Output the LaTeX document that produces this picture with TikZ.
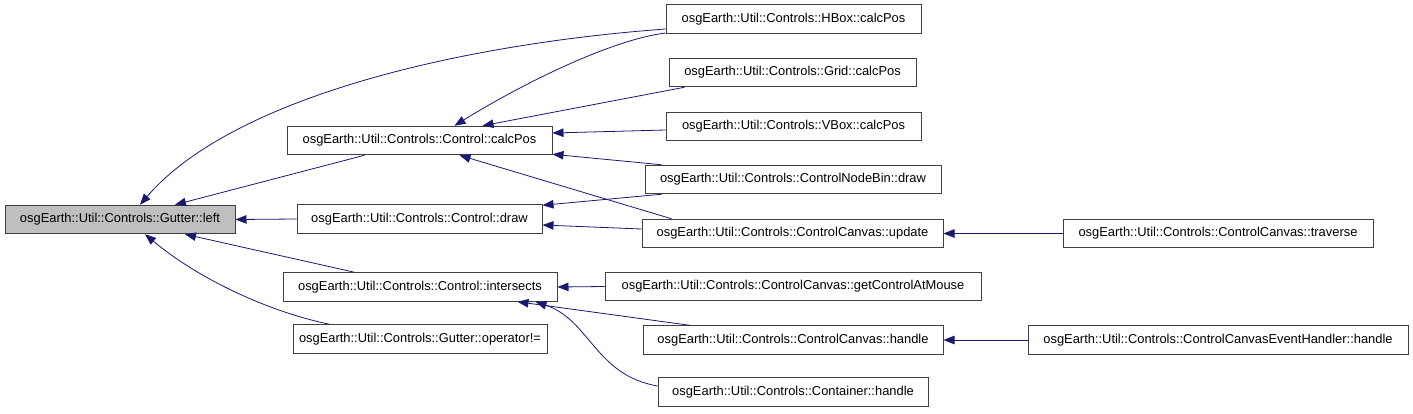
\documentclass[tikz,border=0pt]{standalone}
\usepackage{fontspec}
\setmainfont{Liberation Sans}
\usetikzlibrary{arrows.meta,calc}
\definecolor{edge}{HTML}{191970}
\definecolor{boxline}{HTML}{404040}
\begin{document}
\begin{tikzpicture}[x={(1pt,0)},y={(0,-1pt)},
  fn/.style={draw=boxline,line width=1pt,fill=white,minimum height=28.5pt,inner xsep=0pt,inner ysep=0pt,
    font=\fontsize{12.9}{15}\selectfont,text=black},
  cur/.style={fn,fill=black!25},
  call/.style={draw=edge,line width=0.8pt,-{Triangle[length=11pt,width=8.5pt]}}]
\useasboundingbox (0,0) rectangle (1413,413);
\fill[white] (0,0) rectangle (1413,413);
\node[cur,minimum width=230pt] (gutter) at (120,219.5) {osgEarth::Util::Controls::Gutter::left};
\node[fn,minimum width=265pt] (calcpos) at (419.5,140.5) {osgEarth::Util::Controls::Control::calcPos};
\node[fn,minimum width=245pt] (draw) at (419.5,219) {osgEarth::Util::Controls::Control::draw};
\node[fn,minimum width=274pt] (intersects) at (420,287) {osgEarth::Util::Controls::Control::intersects};
\node[fn,minimum width=254pt] (operator) at (420,339) {osgEarth::Util::Controls::Gutter::operator!=};
\node[fn,minimum width=255pt] (hbox) at (793.5,19) {osgEarth::Util::Controls::HBox::calcPos};
\node[fn,minimum width=247pt] (grid) at (792.5,72.5) {osgEarth::Util::Controls::Grid::calcPos};
\node[fn,minimum width=255pt] (vbox) at (793.5,126.5) {osgEarth::Util::Controls::VBox::calcPos};
\node[fn,minimum width=296pt] (cnb) at (793,179.5) {osgEarth::Util::Controls::ControlNodeBin::draw};
\node[fn,minimum width=301pt] (update) at (792.5,233.5) {osgEarth::Util::Controls::ControlCanvas::update};
\node[fn,minimum width=376pt] (gcam) at (793,286.5) {osgEarth::Util::Controls::ControlCanvas::getControlAtMouse};
\node[fn,minimum width=300pt] (cchandle) at (793,340) {osgEarth::Util::Controls::ControlCanvas::handle};
\node[fn,minimum width=270pt] (container) at (793,392) {osgEarth::Util::Controls::Container::handle};
\node[fn,minimum width=310pt] (traverse) at (1218,233.5) {osgEarth::Util::Controls::ControlCanvas::traverse};
\node[fn,minimum width=380pt] (ehhandle) at (1218,340) {osgEarth::Util::Controls::ControlCanvasEventHandler::handle};
% edges
\draw[call] ($(hbox.west)+(0,10)$) .. controls (450,45) and (230,100) .. ($(gutter.north)+(20,0)$);
\draw[call] ($(hbox.west)+(0,14)$) .. controls (610,40) and (520,85) .. ($(calcpos.north)+(35,0)$);
\draw[call] ($(grid.south west)+(16,0)$) -- ($(calcpos.north)+(63,0)$);
\draw[call] ($(vbox.west)+(0,3.5)$) -- ($(calcpos.east)+(0,-7.5)$);
\draw[call] ($(cnb.north west)+(17,0)$) -- ($(calcpos.south east)+(0,-1)$);
\draw[call] ($(update.north west)+(30,0)$) -- ($(calcpos.south)+(40,0)$);
\draw[call] ($(cnb.south west)+(17,0)$) -- ($(draw.north east)+(0,1)$);
\draw[call] ($(update.west)+(0,-4.5)$) -- ($(draw.east)+(0,6)$);
\draw[call] (traverse.west) -- (update.east);
\draw[call] ($(calcpos.south west)+(78,0)$) -- ($(gutter.north)+(55,0)$);
\draw[call] (draw.west) -- (gutter.east);
\draw[call] ($(intersects.north west)+(72,0)$) -- ($(gutter.south)+(65,0)$);
\draw[call] ($(operator.north west)+(37,0)$) .. controls (270,312) and (200,280) .. ($(gutter.south)+(25,0)$);
\draw[call] (gcam.west) -- (intersects.east);
\draw[call] ($(cchandle.north west)+(47,0)$) -- ($(intersects.south east)+(-40,0)$);
\draw[call] ($(container.west)+(0,-6)$) .. controls (595,375) and (590,320) .. ($(intersects.south east)+(-22,0)$);
\draw[call] (ehhandle.west) -- (cchandle.east);
\end{tikzpicture}
\end{document}
